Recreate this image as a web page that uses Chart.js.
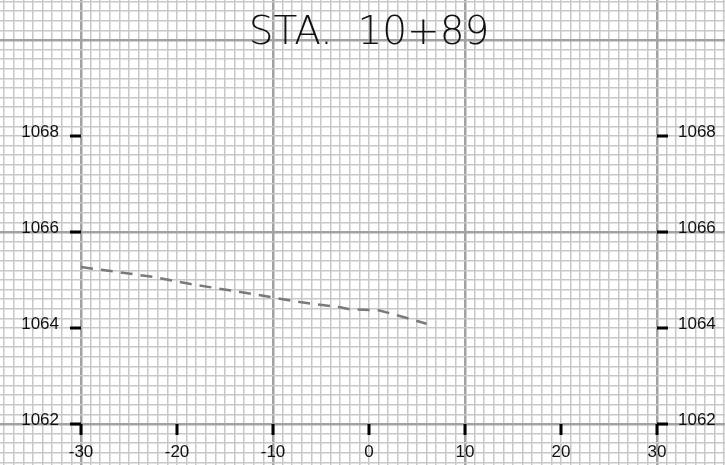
<!DOCTYPE html>
<html>
<head>
<meta charset="utf-8">
<script src="https://cdn.jsdelivr.net/npm/chart.js@4"></script>
<style>
  html, body { margin: 0; padding: 0; background: #fff; }
  #wrap { width: 725px; height: 465px; position: relative; }
</style>
</head>
<body>
<div id="wrap"><canvas id="sectionChart"></canvas></div>
<script>
// profile along the section (offset, elevation)
const offsets = [-30, -22.3, -18.7, -11.9, -7.2, -3, -2, 1, 3.2, 6];
const elevations = [1065.27, 1065.06, 1064.92, 1064.70, 1064.54, 1064.43, 1064.39, 1064.37, 1064.25, 1064.09];

const xLabels = [-30, -20, -10, 0, 10, 20, 30];
const yLabels = [1062, 1064, 1066, 1068];
const title = 'STA.  10+89';

const isMajor = (v, base, step) => {
  const q = (v - base) / step;
  return Math.abs(q - Math.round(q)) < 1e-6;
};

const sheetPlugin = {
  id: 'sheet',
  afterDraw(chart) {
    const { ctx, scales: { x, y } } = chart;
    const left = x.getPixelForValue(-30);
    const right = x.getPixelForValue(30);
    const bottom = y.getPixelForValue(1062);
    ctx.save();
    ctx.strokeStyle = '#000';
    ctx.fillStyle = '#111';
    ctx.lineWidth = 3;
    ctx.font = '17px "Liberation Sans", Arial, sans-serif';

    yLabels.forEach(v => {
      const py = y.getPixelForValue(v);
      ctx.beginPath();
      ctx.moveTo(left - 11, py); ctx.lineTo(left, py);
      ctx.moveTo(right, py); ctx.lineTo(right + 11, py);
      ctx.stroke();
      ctx.textBaseline = 'alphabetic';
      ctx.textAlign = 'right';
      ctx.fillText(String(v), left - 22, py + 1);
      ctx.textAlign = 'left';
      ctx.fillText(String(v), right + 21, py + 1);
    });

    xLabels.forEach(v => {
      const px = x.getPixelForValue(v);
      ctx.beginPath();
      ctx.moveTo(px, bottom); ctx.lineTo(px, bottom + 11);
      ctx.stroke();
      ctx.textAlign = 'center';
      ctx.textBaseline = 'alphabetic';
      ctx.fillText(String(v), px, bottom + 33);
    });

    ctx.font = '200 39px "DejaVu Sans", Inter, sans-serif';
    ctx.textAlign = 'center';
    ctx.fillStyle = '#111';
    ctx.fillText(title, x.getPixelForValue(0), 44);
    ctx.restore();
  }
};

const ctx = document.getElementById('sectionChart').getContext('2d');
new Chart(ctx, {
  type: 'scatter',
  data: {
    datasets: [{
      label: 'Existing ground',
      data: offsets.map((o, i) => ({ x: o, y: elevations[i] })),
      showLine: true,
      borderColor: '#7a7a7a',
      borderWidth: 2.5,
      borderDash: [12, 8],
      pointRadius: 0,
      tension: 0
    }]
  },
  plugins: [sheetPlugin],
  options: {
    responsive: true,
    maintainAspectRatio: false,
    animation: false,
    layout: { padding: 0 },
    plugins: {
      legend: { display: false },
      tooltip: { enabled: false }
    },
    scales: {
      x: {
        type: 'linear',
        min: -38.4375,
        max: 37.0833,
        border: { display: false },
        ticks: { display: false, stepSize: 1, includeBounds: false },
        grid: {
          drawTicks: false,
          color: c => isMajor(c.tick.value, -30, 20) ? '#a2a2a2' : '#c8c8c8',
          lineWidth: c => isMajor(c.tick.value, -30, 20) ? 2.5 : 1.5
        }
      },
      y: {
        type: 'linear',
        min: 1061.1458,
        max: 1070.8333,
        border: { display: false },
        ticks: { display: false, stepSize: 0.2, includeBounds: false },
        grid: {
          drawTicks: false,
          color: c => isMajor(c.tick.value, 1062, 4) ? '#a2a2a2' : '#c8c8c8',
          lineWidth: c => isMajor(c.tick.value, 1062, 4) ? 2.5 : 1.5
        }
      }
    }
  }
});
</script>
</body>
</html>
